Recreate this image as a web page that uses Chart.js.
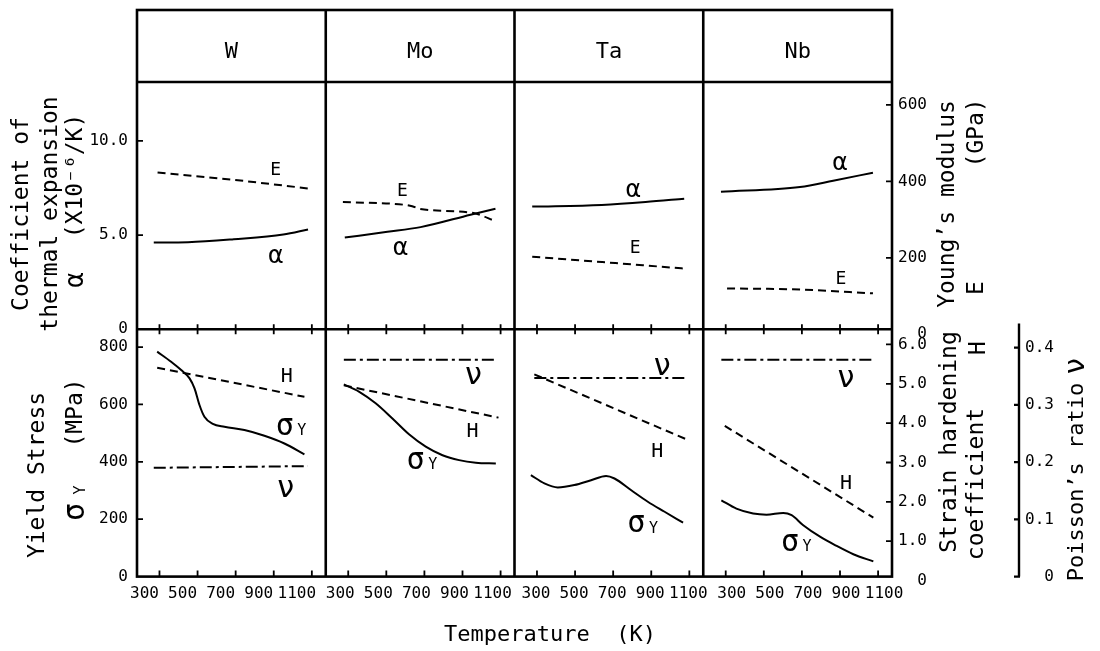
<!DOCTYPE html>
<html>
<head>
<meta charset="utf-8">
<title>W, Mo, Ta, Nb</title>
<script src="https://cdn.jsdelivr.net/npm/chart.js@4/dist/chart.umd.min.js"></script>
<style>
    html, body { margin: 0; padding: 0; background: #fff; }
    #obal { position: relative; width: 1100px; height: 651px; }
</style>
</head>
<body>
<div id="obal"><canvas id="graf"></canvas></div>
<script>
// categories and tick values
const materials = ['W', 'Mo', 'Ta', 'Nb'];
const tempTicks = [300, 500, 700, 900, 1100];
const alphaTicks = [0, 5, 10];
const modulusTicks = [0, 200, 400, 600];
const stressTicks = [0, 200, 400, 600, 800];
const hardeningTicks = [0, 1, 2, 3, 4, 5, 6];
const poissonTicks = [0, 0.1, 0.2, 0.3, 0.4];

// W
const wAlphaT = [270, 450, 690, 950, 1080];
const wAlpha = [4.6, 4.62, 4.78, 5.03, 5.3];
const wModT = [290, 690, 1090];
const wMod = [423, 404, 381];
const wYieldT = [288, 361, 414, 458, 484, 510, 536, 580, 641, 746, 851, 956, 1061];
const wYield = [784, 749, 720, 691, 656, 598, 557, 532, 522, 511, 491, 464, 426];
const wHardT = [288, 1061];
const wHard = [5.41, 4.67];
const wNuT = [270, 1079];
const wNu = [0.19, 0.193];

// Mo
const moAlphaT = [282, 506, 680, 942, 1073];
const moAlpha = [4.87, 5.17, 5.42, 6.08, 6.4];
const moModT = [272, 590, 636, 678, 958, 1072];
const moMod = [346, 339, 335, 328, 317, 296];
const moYieldT = [277, 356, 444, 532, 619, 707, 795, 882, 970, 1075];
const moYield = [670, 645, 604, 551, 496, 453, 423, 406, 397, 394];
const moHardT = [277, 1089];
const moHard = [4.96, 4.14];
const moNuT = [277, 1080];
const moNu = [0.379, 0.379];

// Ta
const taAlphaT = [275, 640, 870, 1073];
const taAlpha = [6.51, 6.6, 6.75, 6.93];
const taModT = [275, 664, 1073];
const taMod = [203, 188, 172];
const taYieldT = [268, 339, 409, 496, 584, 663, 707, 795, 882, 970, 1067];
const taYield = [354, 325, 311, 319, 336, 351, 342, 301, 261, 226, 188];
const taHardT = [286, 1084];
const taHard = [5.24, 3.59];
const taNuT = [286, 1075];
const taNu = [0.347, 0.347];

// Nb
const nbAlphaT = [275, 690, 864, 1073];
const nbAlpha = [7.3, 7.55, 7.88, 8.31];
const nbModT = [307, 690, 1073];
const nbMod = [120, 117, 107];
const nbYieldT = [277, 356, 444, 514, 602, 646, 707, 795, 882, 970, 1075];
const nbYield = [266, 237, 220, 216, 222, 214, 179, 139, 107, 78, 53];
const nbHardT = [295, 1075];
const nbHard = [3.93, 1.6];
const nbNuT = [277, 1084];
const nbNu = [0.379, 0.379];

const pismo = 'DejaVu Sans Mono';
const cara = [];
const carkovana = [8, 5];
const cerchovana = [12, 4, 3, 4];
const posunPopisku = [-15, -8, -1, 6]; // x tick labels sit a little off their ticks in the original

// curve names, placed in data units of the given axes
const curveLabels = [
    { col: 0, y: 'yAlpha', t: 910, v: 8.41, text: 'E', size: 18 },
    { col: 0, y: 'yAlpha', t: 910, v: 3.86, text: 'α', size: 25 },
    { col: 1, y: 'yAlpha', t: 585, v: 7.3, text: 'E', size: 18 },
    { col: 1, y: 'yAlpha', t: 574, v: 4.29, text: 'α', size: 25 },
    { col: 2, y: 'yAlpha', t: 806, v: 7.35, text: 'α', size: 25 },
    { col: 2, y: 'yAlpha', t: 816, v: 4.29, text: 'E', size: 18 },
    { col: 3, y: 'yAlpha', t: 900, v: 8.78, text: 'α', size: 25 },
    { col: 3, y: 'yAlpha', t: 905, v: 2.65, text: 'E', size: 18 },
    { col: 0, y: 'yStress', t: 968, v: 698, text: 'H', size: 20 },
    { col: 0, y: 'yStress', t: 958, v: 520, text: 'σ', sub: 'Y', size: 30 },
    { col: 0, y: 'yStress', t: 963, v: 304, text: 'ν', size: 30 },
    { col: 1, y: 'yStress', t: 958, v: 698, text: 'ν', size: 30 },
    { col: 1, y: 'yStress', t: 953, v: 506, text: 'H', size: 20 },
    { col: 1, y: 'yStress', t: 654, v: 401, text: 'σ', sub: 'Y', size: 30 },
    { col: 2, y: 'yStress', t: 958, v: 729, text: 'ν', size: 30 },
    { col: 2, y: 'yStress', t: 932, v: 436, text: 'H', size: 20 },
    { col: 2, y: 'yStress', t: 822, v: 181, text: 'σ', sub: 'Y', size: 30 },
    { col: 3, y: 'yStress', t: 931, v: 688, text: 'ν', size: 30 },
    { col: 3, y: 'yStress', t: 931, v: 325, text: 'H', size: 20 },
    { col: 3, y: 'yStress', t: 637, v: 115, text: 'σ', sub: 'Y', size: 30 }
];

// axis titles, rotated to read upwards
const axisTitles = [
    { text: 'Coefficient of', x: 22, y: 214, size: 23 },
    { text: 'thermal expansion', x: 51, y: 214, size: 23 },
    { text: '(X10⁻⁶/K)', x: 76, y: 176, size: 23 },
    { text: 'α', x: 76, y: 280, size: 26 },
    { text: 'Yield Stress', x: 38, y: 475, size: 23 },
    { text: '(MPa)', x: 76, y: 413, size: 23 },
    { text: 'σ', x: 76, y: 512, size: 30 },
    { text: 'Y', x: 81, y: 490, size: 15 },
    { text: 'Young’s modulus', x: 948, y: 204, size: 23 },
    { text: '(GPa)', x: 977, y: 133, size: 23 },
    { text: 'E', x: 977, y: 288, size: 23 },
    { text: 'Strain hardening', x: 950, y: 442, size: 23 },
    { text: 'coefficient', x: 977, y: 484, size: 23 },
    { text: 'H', x: 979, y: 348, size: 23 },
    { text: 'Poisson’s ratio', x: 1077, y: 482, size: 22 },
    { text: 'ν', x: 1077, y: 366, size: 28 }
];

function body(xs, ys) {
    return xs.map((x, i) => ({ x: x, y: ys[i] }));
}

function krivka(label, xs, ys, col, yAxis, dash) {
    return {
        label: label,
        data: body(xs, ys),
        xAxisID: 'x' + col,
        yAxisID: yAxis,
        borderColor: '#000',
        borderWidth: 2,
        borderDash: dash,
        pointRadius: 0,
        cubicInterpolationMode: 'monotone',
        fill: false
    };
}

const datasets = [
    krivka('W α', wAlphaT, wAlpha, 0, 'yAlpha', cara),
    krivka('W E', wModT, wMod, 0, 'yE', carkovana),
    krivka('W σY', wYieldT, wYield, 0, 'yStress', cara),
    krivka('W H', wHardT, wHard, 0, 'yH', carkovana),
    krivka('W ν', wNuT, wNu, 0, 'yNu', cerchovana),
    krivka('Mo α', moAlphaT, moAlpha, 1, 'yAlpha', cara),
    krivka('Mo E', moModT, moMod, 1, 'yE', carkovana),
    krivka('Mo σY', moYieldT, moYield, 1, 'yStress', cara),
    krivka('Mo H', moHardT, moHard, 1, 'yH', carkovana),
    krivka('Mo ν', moNuT, moNu, 1, 'yNu', cerchovana),
    krivka('Ta α', taAlphaT, taAlpha, 2, 'yAlpha', cara),
    krivka('Ta E', taModT, taMod, 2, 'yE', carkovana),
    krivka('Ta σY', taYieldT, taYield, 2, 'yStress', cara),
    krivka('Ta H', taHardT, taHard, 2, 'yH', carkovana),
    krivka('Ta ν', taNuT, taNu, 2, 'yNu', cerchovana),
    krivka('Nb α', nbAlphaT, nbAlpha, 3, 'yAlpha', cara),
    krivka('Nb E', nbModT, nbMod, 3, 'yE', carkovana),
    krivka('Nb σY', nbYieldT, nbYield, 3, 'yStress', cara),
    krivka('Nb H', nbHardT, nbHard, 3, 'yH', carkovana),
    krivka('Nb ν', nbNuT, nbNu, 3, 'yNu', cerchovana)
];

const tickFont = { family: pismo, size: 16 };
const jedenDesetinny = v => (v === 0 ? '0' : v.toFixed(1));
// right-hand labels are right-aligned in the original; monospace + padStart does that
const zarovnejVpravo = fmt => v => fmt(v).padStart(3, ' ');

function osaY(pozice, stack, weight, min, max, hodnoty, sirka) {
    return {
        type: 'linear',
        position: pozice,
        stack: stack,
        stackWeight: 1,
        weight: weight,
        min: min,
        max: max,
        afterBuildTicks: s => { s.ticks = hodnoty.map(v => ({ value: v })); },
        afterFit: s => { s.width = sirka; },
        grid: { display: false, drawTicks: false },
        border: { display: false },
        ticks: { autoSkip: false, font: tickFont, color: '#000', padding: 9, callback: v => String(v) }
    };
}

const scales = {};
materials.forEach((m, i) => {
    scales['x' + i] = {
        type: 'linear',
        position: 'bottom',
        stack: 'teplota',
        stackWeight: 1,
        min: 182,
        max: 1173,
        afterBuildTicks: s => { s.ticks = tempTicks.map(v => ({ value: v })); },
        afterFit: s => { s.height = 30; },
        grid: { display: false, drawTicks: false },
        border: { display: false },
        ticks: {
            autoSkip: false, maxRotation: 0, padding: 8, labelOffset: posunPopisku[i],
            font: tickFont, color: '#000', callback: v => String(v)
        }
    };
});

// left: alpha above yield stress; right: E above H, Poisson's ratio further out
scales.yAlpha = osaY('left', 'vlevo', 0.1, 0, 13.12, alphaTicks, 137);
scales.yAlpha.ticks.callback = jedenDesetinny;
scales.yStress = osaY('left', 'vlevo', 0, 0, 862, stressTicks, 137);

scales.yE = osaY('right', 'vpravo', 0, 13, 660, modulusTicks, 127);
scales.yE.ticks.padding = 6;
scales.yE.ticks.callback = zarovnejVpravo(v => String(v));
scales.yH = osaY('right', 'vpravo', 0.1, 0.1, 6.385, hardeningTicks, 127);
scales.yH.ticks.padding = 6;
scales.yH.ticks.callback = zarovnejVpravo(jedenDesetinny);

scales.yNu = osaY('right', undefined, 1, 0, 0.864, poissonTicks, 81);
scales.yNu.ticks.padding = 6;
scales.yNu.ticks.callback = zarovnejVpravo(jedenDesetinny);

// frame, header boxes, inward ticks, Poisson axis line and all loose texts
const ramecek = {
    id: 'ramecek',
    afterDraw(chart) {
        const ctx = chart.ctx;
        const a = chart.chartArea;
        const horni = 10;
        const stred = chart.scales.yAlpha.bottom;
        ctx.save();
        ctx.strokeStyle = '#000';
        ctx.fillStyle = '#000';
        ctx.lineCap = 'butt';

        ctx.lineWidth = 2.6;
        ctx.strokeRect(a.left, horni, a.right - a.left, a.bottom - horni);
        ctx.beginPath();
        ctx.moveTo(a.left, a.top); ctx.lineTo(a.right, a.top);
        ctx.moveTo(a.left, stred); ctx.lineTo(a.right, stred);
        for (let i = 1; i < materials.length; i++) {
            const x = chart.scales['x' + i].left;
            ctx.moveTo(x, horni); ctx.lineTo(x, a.bottom);
        }
        ctx.stroke();

        // headers
        ctx.font = '22px "' + pismo + '"';
        ctx.textAlign = 'center';
        ctx.textBaseline = 'middle';
        materials.forEach((m, i) => {
            const s = chart.scales['x' + i];
            ctx.fillText(m, (s.left + s.right) / 2, 52);
        });

        // ticks
        ctx.lineWidth = 1.8;
        ctx.beginPath();
        materials.forEach((m, i) => {
            const s = chart.scales['x' + i];
            tempTicks.forEach(t => {
                const x = s.getPixelForValue(t);
                ctx.moveTo(x, a.bottom); ctx.lineTo(x, a.bottom - 6);
                ctx.moveTo(x, stred - 5); ctx.lineTo(x, stred + 5);
            });
        });
        const vlevo = (osa, hodnoty) => hodnoty.filter(v => v > 0).forEach(v => {
            const y = chart.scales[osa].getPixelForValue(v);
            ctx.moveTo(a.left, y); ctx.lineTo(a.left + 6, y);
        });
        const vpravo = (osa, hodnoty) => hodnoty.filter(v => v > 0).forEach(v => {
            const y = chart.scales[osa].getPixelForValue(v);
            ctx.moveTo(a.right, y); ctx.lineTo(a.right - 6, y);
        });
        vlevo('yAlpha', alphaTicks);
        vlevo('yStress', stressTicks);
        vpravo('yE', modulusTicks);
        vpravo('yH', hardeningTicks);
        ctx.stroke();

        // Poisson's ratio axis
        const nu = chart.scales.yNu;
        const xNu = nu.left;
        ctx.lineWidth = 2.4;
        ctx.beginPath();
        ctx.moveTo(xNu, nu.getPixelForValue(0.442));
        ctx.lineTo(xNu, nu.getPixelForValue(0));
        poissonTicks.forEach(v => {
            const y = nu.getPixelForValue(v);
            ctx.moveTo(xNu + 1, y); ctx.lineTo(xNu - 5, y);
        });
        ctx.stroke();

        // curve names
        curveLabels.forEach(l => {
            const x = chart.scales['x' + l.col].getPixelForValue(l.t);
            const y = chart.scales[l.y].getPixelForValue(l.v);
            ctx.font = l.size + 'px "' + pismo + '"';
            ctx.fillText(l.text, x, y);
            if (l.sub) {
                ctx.font = '15px "' + pismo + '"';
                ctx.fillText(l.sub, x + 17, y + 4);
            }
        });

        // axis titles
        axisTitles.forEach(t => {
            ctx.save();
            ctx.translate(t.x, t.y);
            ctx.rotate(-Math.PI / 2);
            ctx.font = t.size + 'px "' + pismo + '"';
            ctx.fillText(t.text, 0, 0);
            ctx.restore();
        });
        ctx.restore();
    }
};

document.addEventListener('DOMContentLoaded', () => {
    Chart.defaults.font.family = pismo;
    Chart.defaults.color = '#000';
    const ctx = document.getElementById('graf').getContext('2d');
    window.graf = new Chart(ctx, {
        type: 'line',
        data: { datasets: datasets },
        options: {
            responsive: true,
            maintainAspectRatio: false,
            animation: false,
            layout: { padding: { top: 82, left: 0, right: 0, bottom: 0 } },
            scales: scales,
            plugins: {
                legend: { display: false },
                tooltip: { enabled: false },
                title: {
                    display: true,
                    position: 'bottom',
                    text: 'Temperature  (K)',
                    color: '#000',
                    font: { family: pismo, size: 22, weight: 'normal' },
                    padding: { top: 15, bottom: 3 }
                }
            }
        },
        plugins: [ramecek]
    });
});
</script>
</body>
</html>
